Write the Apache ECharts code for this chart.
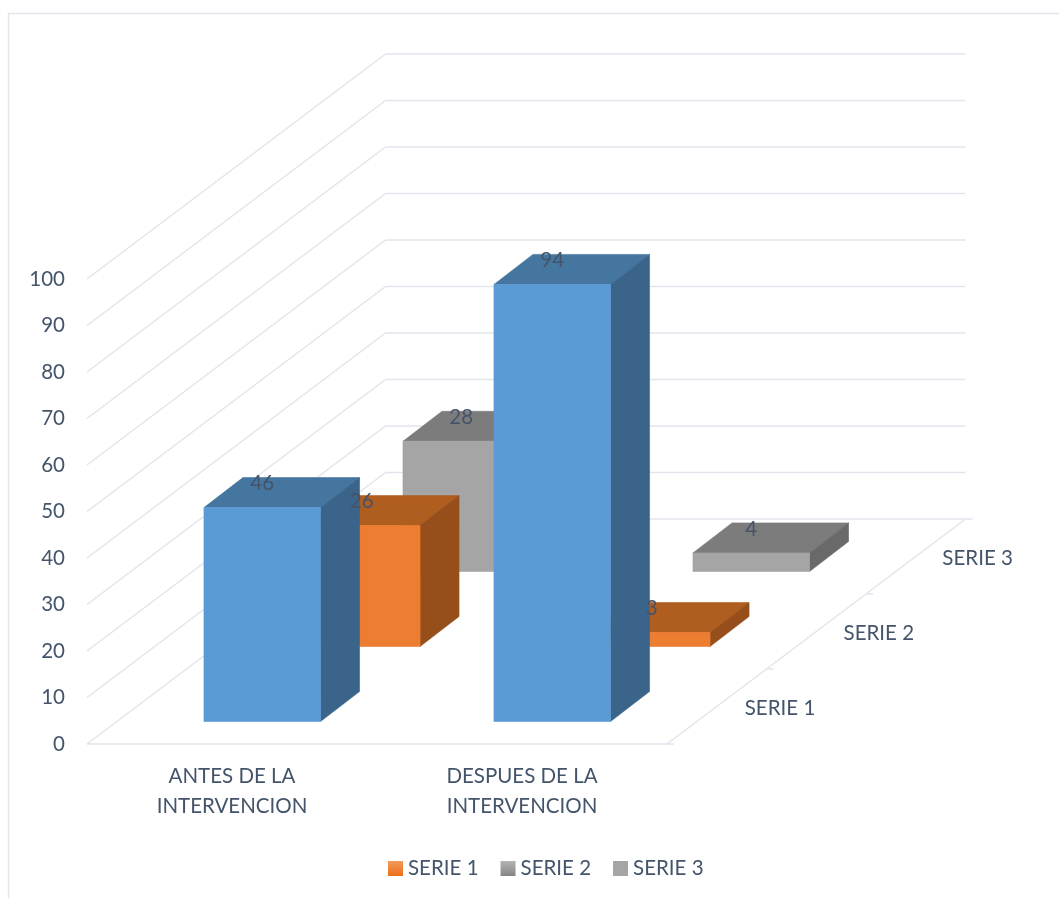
<!DOCTYPE html>
<html>
<head>
<meta charset="utf-8">
<style>html,body{margin:0;padding:0;background:#fff}#chart{width:1059px;height:898px}</style>
<script src="https://cdn.jsdelivr.net/npm/echarts@6/dist/echarts.min.js"></script>
</head>
<body>
<div id="chart"></div>
<script>
// Chart values
const categories = ['ANTES DE LA\nINTERVENCION', 'DESPUES DE LA\nINTERVENCION'];
const serieNames = ['SERIE 1', 'SERIE 2', 'SERIE 3'];
const serie1 = [46, 94];
const serie2 = [26, 3];
const serie3 = [28, 4];
const valueTicks = [0, 10, 20, 30, 40, 50, 60, 70, 80, 90, 100];

// Face colours for each series: front, top, side
const faceColors = [
  ['#5B9BD5', '#44769F', '#3A6489'],
  ['#ED7D31', '#B05D20', '#964F1B'],
  ['#A5A5A5', '#7C7C7C', '#696969']
];

// Oblique projection: each series occupies one slot of depth
const SLOT_DX = 99.5, SLOT_DY = 75;
const BAR_DX = 39, BAR_DY = 30;
const BAR_GAP_DX = (SLOT_DX - BAR_DX) / 2, BAR_GAP_DY = (SLOT_DY - BAR_DY) / 2;
const BAR_WIDTH_RATIO = 0.402;
const TEXT = '#44546A', WALL = '#E1E5EC', FONT = 'Lato', FONT_SIZE = 20.5;
const seriesValues = [serie1, serie2, serie3];

function frontBox(api, slot) {
  const base = api.coord([api.value(0), 0]);
  const top = api.coord([api.value(0), api.value(1)]);
  const w = api.size([1, 0])[0] * BAR_WIDTH_RATIO;
  const cx = base[0] + BAR_GAP_DX + slot * SLOT_DX;
  const lift = BAR_GAP_DY + slot * SLOT_DY;
  return { x0: cx - w / 2, x1: cx + w / 2, cx, y0: base[1] - lift, y1: top[1] - lift };
}

function polygon(points, color) {
  return { type: 'polygon', shape: { points }, style: { fill: color, stroke: color, lineWidth: 0.6 } };
}

function renderBar(slot) {
  return function (params, api) {
    const b = frontBox(api, slot);
    const c = faceColors[slot];
    return {
      type: 'group',
      children: [
        polygon([[b.x0, b.y1], [b.x1, b.y1], [b.x1 + BAR_DX, b.y1 - BAR_DY], [b.x0 + BAR_DX, b.y1 - BAR_DY]], c[1]),
        polygon([[b.x1, b.y0], [b.x1, b.y1], [b.x1 + BAR_DX, b.y1 - BAR_DY], [b.x1 + BAR_DX, b.y0 - BAR_DY]], c[2]),
        polygon([[b.x0, b.y0], [b.x1, b.y0], [b.x1, b.y1], [b.x0, b.y1]], c[0])
      ]
    };
  };
}

// Value label above the front edge of each bar; painted after all the bars
function renderValueLabel(params, api) {
  const b = frontBox(api, api.value(2));
  return {
    type: 'text',
    style: {
      x: b.cx, y: b.y1 - 24, text: String(api.value(1)), fill: TEXT,
      font: FONT_SIZE + 'px ' + FONT, textAlign: 'center', textVerticalAlign: 'middle'
    }
  };
}

function line(a, b) {
  return { type: 'line', shape: { x1: a[0], y1: a[1], x2: b[0], y2: b[1] }, style: { stroke: WALL, lineWidth: 1.5 } };
}

// Left and back walls: one bent line per value tick
function renderWallLine(params, api) {
  const slots = serieNames.length;
  const p = api.coord([0, api.value(0)]);
  const halfCat = api.size([1, 0])[0] / 2;
  const left = [p[0] - halfCat, p[1]];
  const corner = [left[0] + slots * SLOT_DX, left[1] - slots * SLOT_DY];
  const end = [corner[0] + categories.length * halfCat * 2, corner[1]];
  return { type: 'group', children: [line(left, corner), line(corner, end)] };
}

// Floor edges, depth axis with its ticks, and the series names along it
function renderDepthAxis(params, api) {
  const slot = api.value(0);
  const p = api.coord([categories.length - 1, 0]);
  const halfCat = api.size([1, 0])[0] / 2;
  const start = [p[0] + halfCat + slot * SLOT_DX, p[1] - slot * SLOT_DY];
  const next = [start[0] + SLOT_DX, start[1] - SLOT_DY];
  const children = [line(start, [start[0] + 7, start[1]])];
  if (slot === 0) {
    const q = api.coord([0, 0]);
    children.push(line([q[0] - halfCat, q[1]], start));
  }
  if (slot < serieNames.length) {
    children.push(line(start, next));
    children.push({
      type: 'text',
      style: {
        x: start[0] + SLOT_DX / 2 + 28 - slot * 0.7, y: start[1] - SLOT_DY / 2 + 2,
        text: serieNames[slot], fill: TEXT, font: FONT_SIZE + 'px ' + FONT,
        textAlign: 'left', textVerticalAlign: 'middle'
      }
    });
  }
  return { type: 'group', children };
}

const barSeries = serieNames.map((name, slot) => ({
  type: 'custom',
  name,
  z: 5 - slot,
  renderItem: renderBar(slot),
  encode: { x: 0, y: 1 },
  data: seriesValues[slot].map((v, i) => [i, v])
}));

const labelData = [];
seriesValues.forEach((vals, slot) => vals.forEach((v, i) => labelData.push([i, v, slot])));

const option = {
  animation: false,
  backgroundColor: '#fff',
  textStyle: { fontFamily: FONT },
  grid: { left: 87, top: 279, width: 580, height: 465, containLabel: false },
  xAxis: {
    type: 'category',
    data: categories,
    axisLine: { show: false },
    axisTick: { show: false },
    axisLabel: { color: TEXT, fontSize: FONT_SIZE, fontFamily: FONT, lineHeight: 30, margin: 17 }
  },
  yAxis: {
    type: 'value',
    min: valueTicks[0],
    max: valueTicks[valueTicks.length - 1],
    interval: 10,
    axisLine: { show: false },
    axisTick: { show: false },
    splitLine: { show: false },
    axisLabel: { color: TEXT, fontSize: FONT_SIZE, fontFamily: FONT, margin: 22, padding: [6, 0, 0, 0] }
  },
  legend: {
    left: 383,
    top: 853,
    itemWidth: 15,
    itemHeight: 15,
    itemGap: 22,
    icon: 'rect',
    textStyle: { color: TEXT, fontSize: FONT_SIZE, fontFamily: FONT },
    data: [
      { name: serieNames[0], itemStyle: { color: { type: 'linear', x: 0, y: 0, x2: 0, y2: 1, colorStops: [{ offset: 0, color: '#F49A5C' }, { offset: 1, color: '#EC6E1A' }] } } },
      { name: serieNames[1], itemStyle: { color: { type: 'linear', x: 0, y: 0, x2: 0, y2: 1, colorStops: [{ offset: 0, color: '#B4B4B4' }, { offset: 1, color: '#858585' }] } } },
      { name: serieNames[2], itemStyle: { color: '#A5A5A5' } }
    ]
  },
  graphic: [{
    type: 'polyline',
    silent: true,
    shape: { points: [[8.5, 898], [8.5, 13.5], [1059, 13.5]] },
    style: { stroke: WALL, lineWidth: 1.5, fill: 'none' }
  }],
  series: [
    { type: 'custom', name: 'paredes', z: 1, silent: true, renderItem: renderWallLine, encode: { y: 0 }, data: valueTicks.map(v => [v]) },
    { type: 'custom', name: 'profundidad', z: 1, silent: true, renderItem: renderDepthAxis, data: [0, 1, 2, 3].map(s => [s]) },
    ...barSeries,
    { type: 'custom', name: 'etiquetas', z: 10, silent: true, renderItem: renderValueLabel, encode: { x: 0, y: 1 }, data: labelData }
  ]
};

echarts.init(document.getElementById('chart'), null, { renderer: 'canvas' }).setOption(option);
</script>
</body>
</html>
